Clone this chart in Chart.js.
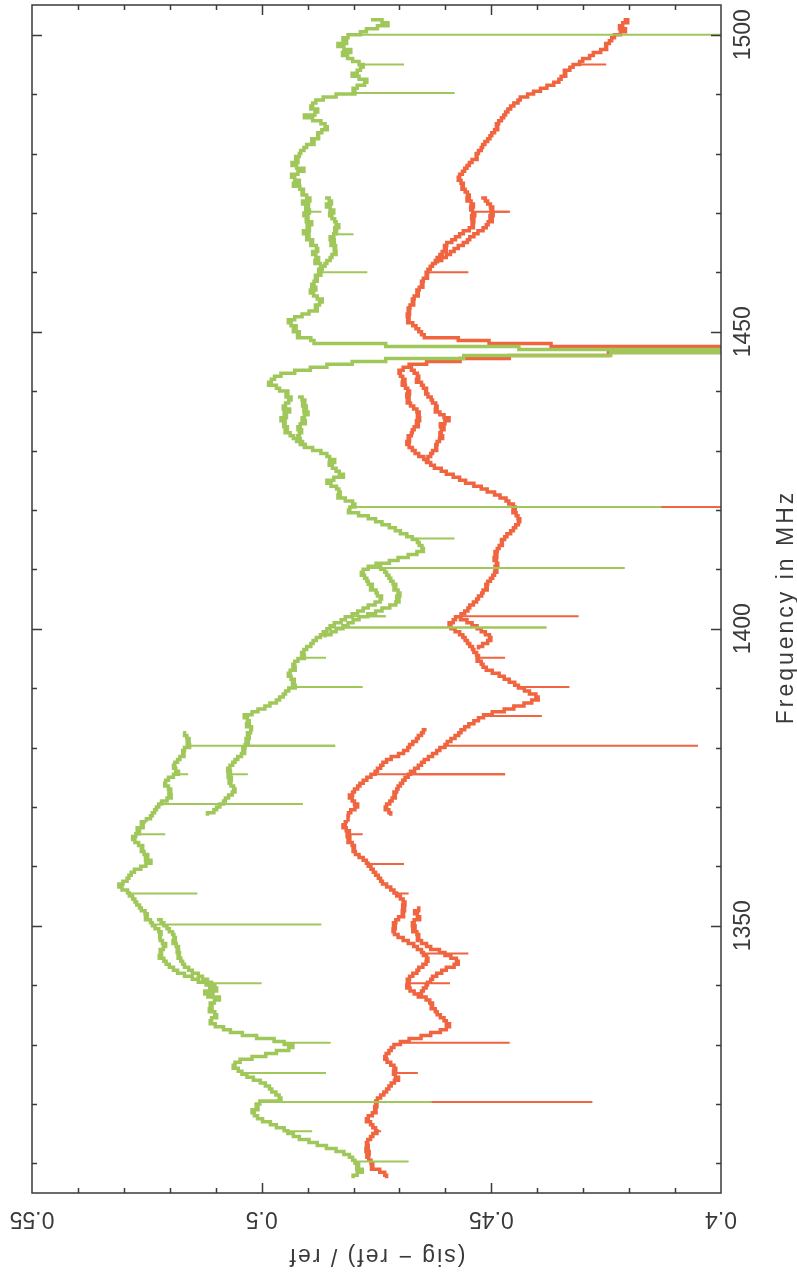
<!DOCTYPE html>
<html>
<head>
<meta charset="utf-8">
<script src="https://cdn.jsdelivr.net/npm/chart.js@4/dist/chart.umd.min.js"></script>
<style>
  html, body { margin: 0; padding: 0; background: #ffffff; }
  canvas { display: block; }
</style>
</head>
<body>
<canvas id="spectrum" width="797" height="1283"></canvas>
<script>
// Channel grid of the spectra (MHz)
const CHANNEL_MHZ = 0.5;
const mainStartMHz = 1502.5;

// (sig - ref) / ref, one value per channel from 1502.5 MHz downwards
const greenMain = [
  0.4762,0.4738,0.4725,0.4748,0.4772,0.4785,0.4812,0.4823,0.4815,0.4834,
  0.4821,0.4806,0.4824,0.4813,0.4802,0.4788,0.4779,0.4785,0.4792,0.4803,
  0.4788,0.4771,0.4776,0.4792,0.4801,0.4797,0.4838,0.4866,0.4882,0.4889,
  0.4893,0.4878,0.4884,0.4907,0.4889,0.4871,0.4862,0.4857,0.4869,0.4878,
  0.4876,0.4891,0.4886,0.4902,0.4908,0.4915,0.4918,0.4926,0.4921,0.4934,
  0.4924,0.4908,0.4921,0.4935,0.4928,0.4918,0.4931,0.4917,0.4909,0.4912,
  0.4902,0.4895,0.4911,0.4898,0.4904,0.4896,0.4908,0.4899,0.4903,0.4891,
  0.4901,0.4896,0.4909,0.4897,0.4902,0.4889,0.4893,0.4881,0.4878,0.4889,
  0.4882,0.4876,0.4884,0.4872,0.4869,0.4876,0.4871,0.4883,0.4879,0.4886,
  0.4891,0.4882,0.4894,0.4887,0.4879,0.4868,0.4874,0.4883,0.4879,0.4897,
  0.4912,0.4928,0.4942,0.4936,0.4925,0.4931,0.4918,0.4922,0.4893,0.4886,
  0.4730,0.4440,0.3800,0.4240,0.4560,0.4730,0.4803,0.4858,0.4894,0.4928,
  0.4958,0.4972,0.4979,0.4985,0.4968,0.4961,0.4943,0.4947,0.4936,0.4941,
  0.4948,0.4953,0.4939,0.4951,0.4946,0.4958,0.4949,0.4952,0.4944,0.4949,
  0.4938,0.4931,0.4924,0.4916,0.4907,0.4889,0.4871,0.4858,0.4852,0.4841,
  0.4853,0.4846,0.4838,0.4831,0.4822,0.4843,0.4858,0.4849,0.4837,0.4832,
  0.4829,0.4834,0.4818,0.4802,0.4797,0.4808,0.4811,0.4789,0.4768,0.4752,
  0.4738,0.4722,0.4709,0.4698,0.4684,0.4672,0.4661,0.4657,0.4651,0.4648,
  0.4662,0.4681,0.4703,0.4722,0.4751,0.4768,0.4779,0.4783,0.4776,0.4771,
  0.4768,0.4759,0.4763,0.4751,0.4748,0.4739,0.4742,0.4753,0.4768,0.4779,
  0.4791,0.4803,0.4818,0.4827,0.4842,0.4851,0.4858,0.4866,0.4872,0.4881,
  0.4888,0.4893,0.4902,0.4908,0.4913,0.4907,0.4921,0.4928,0.4932,0.4927,
  0.4938,0.4942,0.4936,0.4929,0.4933,0.4927,0.4941,0.4948,0.4953,0.4961,
  0.4968,0.4982,0.4993,0.5008,0.5021,0.5038,0.5031,0.5027,0.5033,0.5022,
  0.5024,0.5031,0.5027,0.5034,0.5029,0.5036,0.5041,0.5037,0.5044,0.5052,
  0.5058,0.5063,0.5069,0.5074,0.5068,0.5073,0.5066,0.5071,0.5067,0.5061,
  0.5058,0.5064,0.5072,0.5079,0.5083,0.5091,0.5098,0.5104,0.5118,null,
  0.5251,0.5262,0.5258,0.5271,0.5266,0.5274,0.5281,0.5276,0.5268,0.5259,
  0.5262,0.5256,0.5248,0.5253,0.5241,0.5252,0.5263,0.5277,0.5284,0.5289,
  0.5293,0.5302,0.5311,0.5304,0.5292,0.5288,0.5281,0.5276,0.5272,0.5266,
  0.5262,0.5254,0.5249,0.5253,0.5242,0.5238,0.5232,0.5224,0.5219,0.5222,
  0.5221,0.5216,0.5209,0.5214,0.5221,0.5218,0.5223,0.5213,0.5208,0.5201,
  0.5192,0.5183,0.5168,0.5151,0.5138,0.5121,0.5113,0.5108,0.5124,0.5117,
  0.5092,0.5103,0.5112,0.5108,0.5114,0.5102,0.5098,0.5109,0.5112,0.5101,
  0.5083,0.5068,0.5042,0.5011,0.4973,0.4951,0.4932,0.4941,0.4968,0.4991,
  0.5021,0.5047,0.5058,0.5062,0.5051,0.5043,0.5032,0.5018,0.5003,0.4992,
  0.4983,0.4978,0.4969,0.4962,0.4958,0.5004,0.5012,0.5008,0.5021,0.5016,
  0.5009,0.4998,0.4981,0.4968,0.4951,0.4943,0.4931,0.4918,0.4897,0.4879,
  0.4859,0.4838,0.4821,0.4809,0.4802,0.4797,0.4789,0.4793,0.4781,0.4792,
  0.4801
];

const redMain = [
  0.4212,0.4203,0.4214,0.4221,0.4208,0.4219,0.4232,0.4238,0.4243,0.4251,
  0.4249,0.4262,0.4278,0.4286,0.4301,0.4308,0.4322,0.4329,0.4341,0.4338,
  0.4348,0.4353,0.4364,0.4379,0.4393,0.4408,0.4421,0.4437,0.4442,0.4451,
  0.4458,0.4464,0.4469,0.4473,0.4478,0.4484,0.4489,0.4486,0.4493,0.4499,
  0.4503,0.4508,0.4514,0.4519,0.4522,0.4528,0.4533,0.4531,0.4542,0.4548,
  0.4553,0.4558,0.4563,0.4569,0.4572,0.4566,0.4561,0.4564,0.4557,0.4552,
  0.4548,0.4553,0.4544,0.4539,0.4545,0.4541,0.4536,0.4543,0.4538,0.4542,
  0.4539,0.4548,0.4561,0.4569,0.4578,0.4586,0.4597,0.4602,0.4598,0.4607,
  0.4612,0.4618,0.4622,0.4628,0.4633,0.4638,0.4642,0.4639,0.4648,0.4652,
  0.4649,0.4657,0.4662,0.4659,0.4668,0.4672,0.4669,0.4677,0.4681,0.4678,
  0.4683,0.4679,0.4682,0.4671,0.4664,0.4658,0.4652,0.4646,0.4572,0.4505,
  0.4370,0.3800,0.3800,0.4245,0.4461,0.4568,0.4641,0.4679,0.4692,0.4701,
  0.4698,0.4693,0.4688,0.4694,0.4687,0.4682,0.4678,0.4684,0.4679,0.4683,
  0.4676,0.4669,0.4662,0.4657,0.4661,0.4656,0.4663,0.4659,0.4668,0.4672,
  0.4674,0.4681,0.4678,0.4684,0.4679,0.4672,0.4666,0.4658,0.4647,0.4641,
  0.4632,0.4624,0.4609,0.4598,0.4583,0.4569,0.4556,0.4538,0.4522,0.4509,
  0.4493,0.4481,0.4468,0.4462,0.4452,0.4448,0.4453,0.4446,0.4442,0.4438,
  0.4441,0.4447,0.4452,0.4458,0.4466,0.4471,0.4478,0.4476,0.4483,0.4487,
  0.4492,0.4488,0.4494,0.4489,0.4486,0.4492,0.4488,0.4493,0.4497,0.4502,
  0.4508,0.4512,0.4509,0.4518,0.4521,0.4528,0.4532,0.4539,0.4547,0.4551,
  0.4558,0.4566,0.4578,0.4583,0.4592,0.4588,0.4579,0.4569,0.4562,0.4557,
  0.4552,0.4547,0.4541,0.4538,0.4532,0.4528,0.4531,0.4522,0.4518,0.4511,
  0.4498,0.4483,0.4472,0.4461,0.4449,0.4441,0.4428,0.4417,0.4403,0.4398,
  0.4412,0.4429,0.4451,0.4472,0.4498,0.4517,0.4528,0.4538,0.4549,0.4558,
  0.4566,0.4571,0.4579,0.4588,0.4596,0.4601,0.4612,0.4619,0.4628,0.4637,
  0.4646,0.4652,0.4659,0.4667,0.4676,0.4681,0.4688,0.4693,0.4698,0.4703,
  0.4706,0.4712,0.4709,0.4716,0.4721,0.4728,0.4731,0.4723,0.4719,null,
  0.4812,0.4818,0.4823,0.4816,0.4809,0.4814,0.4808,0.4812,0.4803,0.4798,
  0.4801,0.4796,0.4788,0.4779,0.4772,0.4768,0.4762,0.4757,0.4752,0.4746,
  0.4741,0.4737,0.4728,0.4719,0.4712,0.4706,0.4698,0.4692,0.4688,0.4693,
  0.4689,0.4694,0.4691,0.4702,0.4708,0.4713,0.4709,0.4714,0.4711,0.4703,
  0.4692,0.4681,0.4669,0.4661,0.4652,0.4648,0.4641,0.4638,0.4642,0.4649,
  0.4658,0.4662,0.4671,0.4678,0.4683,0.4679,0.4684,0.4677,0.4668,0.4659,
  0.4642,0.4634,0.4628,0.4631,0.4622,0.4618,0.4611,0.4603,0.4598,0.4591,
  0.4598,0.4611,0.4632,0.4653,0.4679,0.4698,0.4712,0.4718,0.4723,0.4729,
  0.4732,0.4727,0.4719,0.4712,0.4708,0.4713,0.4709,0.4702,0.4711,0.4718,
  0.4723,0.4728,0.4734,0.4741,0.4748,0.4752,0.4749,0.4754,0.4751,0.4759,
  0.4768,0.4772,0.4763,0.4758,0.4752,0.4749,0.4758,0.4763,0.4769,0.4772,
  0.4768,0.4773,0.4766,0.4771,0.4767,0.4762,0.4758,0.4761,0.4743,0.4732,
  0.4728
];

// Overlapping sub-band spectra: start channel (MHz) and values downwards
const greenOverlapStarts = [1472.5, 1439, 1410.5, 1382.5, 1351];
const greenOverlapA = [0.4862,0.4853,0.4848,0.4859,0.4851,0.4843,0.4852,0.4847,0.4841,0.4838,0.4832,0.4841,0.4837,0.4843,0.4851,0.4842,0.4849,0.4839,0.4842,0.4838,0.4847,0.4851,0.4858,0.4862,0.4868,0.4871];
const greenOverlapB = [0.4921,0.4912,0.4906,0.4911,0.4903,0.4908,0.4899,0.4907,0.4912,0.4905,0.4916,0.4921,0.4913,0.4918,0.4922,0.4916,0.4911,0.4905];
const greenOverlapC = [0.4748,0.4741,0.4732,0.4728,0.4723,0.4719,0.4714,0.4708,0.4712,0.4703,0.4699,0.4706,0.4701,0.4708,0.4721,0.4738,0.4752,0.4769,0.4788,0.4801,0.4812,0.4823,0.4838,0.4849,0.4862];
const greenOverlapD = [0.5171,0.5168,0.5163,0.5158,0.5162,0.5157,0.5168,0.5172,0.5169,0.5178,0.5183,0.5189,0.5192,0.5187,0.5181,0.5192,0.5203,0.5209,0.5211,0.5203,0.5198,0.5202,0.5197,0.5206,0.5218,0.5224,0.5229,0.5233,0.5238,0.5242,0.5251];
const greenOverlapE = [0.5228,0.5219,0.5213,0.5206,0.5201,0.5194,0.5191,0.5188,0.5193,0.5186,0.5181,0.5184,0.5179,0.5182,0.5176,0.5172,0.5168,0.5159,0.5151,0.5138,0.5129,0.5118,0.5109,0.5102,0.5098,0.5106,0.5111];

const redOverlapStarts = [1472.5, 1444, 1401.5, 1383, 1353];
const redOverlapA = [0.4522,0.4513,0.4508,0.4502,0.4497,0.4501,0.4496,0.4503,0.4498,0.4507,0.4511,0.4518,0.4529,0.4538,0.4547,0.4552,0.4561,0.4572,0.4581,0.4589,0.4598,0.4608,0.4617];
const redOverlapB = [0.4682,0.4674,0.4668,0.4661,0.4658,0.4663,0.4652,0.4648,0.4641,0.4643,0.4638,0.4631,0.4628,0.4621,0.4618,0.4622,0.4612,0.4603,0.4592,0.4601,0.4611,0.4603,0.4609,0.4612,0.4606,0.4613,0.4618,0.4621,0.4619,0.4628,0.4632,0.4638,0.4641];
const redOverlapC = [0.4571,0.4553,0.4542,0.4531,0.4522,0.4513,0.4504,0.4501,0.4508,0.4519,0.4528];
const redOverlapD = [0.4641,0.4648,0.4652,0.4659,0.4663,0.4671,0.4678,0.4682,0.4691,0.4702,0.4718,0.4728,0.4736,0.4741,0.4748,0.4753,0.4762,0.4771,0.4779,0.4786,0.4791,0.4798,0.4802,0.4809,0.4803,0.4798,0.4791,0.4797,0.4806,0.4811,0.4812,0.4812];
const redOverlapE = [0.4662,0.4658,0.4667,0.4661,0.4656,0.4668,0.4672,0.4666,0.4671,0.4662,0.4658,0.4661,0.4652,0.4641,0.4632,0.4613,0.4601,0.4588,0.4576,0.4572,0.4581,0.4598,0.4608,0.4619,0.4628,0.4632,0.4639,0.4642,0.4648,0.4652,0.4658];

// Single-channel interference spikes: frequency (MHz) and value
const greenSpikeFreqs  = [1500, 1495, 1490.2, 1470.2, 1460, 1420.5, 1415.2, 1410.2, 1402.1, 1400.2, 1395.1, 1390.2, 1380.3, 1375.5, 1370.5, 1365.4, 1355.4, 1350.2, 1340.3, 1330.3, 1325.2, 1320.3, 1315.4, 1310.3];
const greenSpikeValues = [0.37, 0.469, 0.458, 0.487, 0.477, 0.413, 0.458, 0.421, 0.473, 0.438, 0.486, 0.478, 0.484, 0.503, 0.491, 0.521, 0.514, 0.487, 0.500, 0.485, 0.486, 0.463, 0.489, 0.468];
const greenOverlapSpikeFreqs  = [1466.4, 1410.2, 1402.1, 1400.2, 1380.3, 1375.5, 1370.5];
const greenOverlapSpikeValues = [0.480, 0.421, 0.473, 0.438, 0.484, 0.516, 0.491];

const redSpikeFreqs  = [1495, 1470.2, 1460, 1420.5, 1402.1, 1395.1, 1390.2, 1385.3, 1380.3, 1375.5, 1365.4, 1360.4, 1355.4, 1345.3, 1340.3, 1330.3, 1325.2, 1320.3, 1315.4];
const redSpikeValues = [0.425, 0.446, 0.455, 0.37, 0.431, 0.447, 0.433, 0.439, 0.405, 0.447, 0.478, 0.469, 0.468, 0.455, 0.459, 0.446, 0.466, 0.428, 0.474];
const redOverlapSpikeFreqs  = [1470.2, 1375.5];
const redOverlapSpikeValues = [0.446, 0.447];

// Axes
const valueMin = 0.40, valueMax = 0.55;
const freqMin = 1305, freqMax = 1505;
const valueTicks = [0.55, 0.5, 0.45, 0.4];
const valueTickLabels = ['0.55', '0.5', '0.45', '0.4'];
const freqTicks = [1350, 1400, 1450, 1500];
const freqTickLabels = ['1350', '1400', '1450', '1500'];
const valueTitle = '(sig \u2212 ref) / ref';
const freqTitle = 'Frequency in MHz';

const GREEN = '#a0c75a';
const RED = '#f0643f';

// ---- build point lists ----
function toPoints(start, values) {
  return values.map((v, i) => ({ x: v, y: +(start - i * CHANNEL_MHZ).toFixed(3) }));
}
// horizontal spike segments starting from the trace value of the channel they fall in
function spikeSegments(points, freqs, values) {
  const out = [];
  const top = points[0].y, bottom = points[points.length - 1].y;
  freqs.forEach((f, k) => {
    if (f > top || f <= bottom) return;
    const p = points.find(q => q.y < f);
    if (!p || p.x === null) return;
    out.push({ x: p.x, y: f }, { x: values[k], y: f }, { x: null, y: f });
  });
  return out;
}

function traceDataset(points, color, order) {
  return {
    data: points, borderColor: color, borderWidth: 3.5,
    stepped: 'before', pointRadius: 0, spanGaps: false, fill: false, clip: 0, order
  };
}
function spikeDataset(points, color, order) {
  return {
    data: points, borderColor: color, borderWidth: 2,
    pointRadius: 0, spanGaps: false, fill: false, clip: 0, order
  };
}

const datasets = [];
const greenTraces = [toPoints(mainStartMHz, greenMain)].concat(
  [greenOverlapA, greenOverlapB, greenOverlapC, greenOverlapD, greenOverlapE].map((v, i) => toPoints(greenOverlapStarts[i], v)));
const redTraces = [toPoints(mainStartMHz, redMain)].concat(
  [redOverlapA, redOverlapB, redOverlapC, redOverlapD, redOverlapE].map((v, i) => toPoints(redOverlapStarts[i], v)));

greenTraces.forEach(t => datasets.push(traceDataset(t, GREEN, 0)));
datasets.push(spikeDataset(spikeSegments(greenTraces[0], greenSpikeFreqs, greenSpikeValues), GREEN, 0));
greenTraces.slice(1).forEach(t => datasets.push(spikeDataset(spikeSegments(t, greenOverlapSpikeFreqs, greenOverlapSpikeValues), GREEN, 0)));
redTraces.forEach(t => datasets.push(traceDataset(t, RED, 1)));
datasets.push(spikeDataset(spikeSegments(redTraces[0], redSpikeFreqs, redSpikeValues), RED, 1));
redTraces.slice(1).forEach(t => datasets.push(spikeDataset(spikeSegments(t, redOverlapSpikeFreqs, redOverlapSpikeValues), RED, 1)));

// ---- frame, inward ticks and rotated labels ----
const FONT = '"Liberation Sans", Arial, sans-serif';
const framePlugin = {
  id: 'frame',
  afterDatasetsDraw(chart) {
    const { ctx, chartArea: a, scales } = chart;
    const xs = scales.x, ys = scales.y;
    ctx.save();
    ctx.strokeStyle = '#3a3a3a';
    ctx.lineWidth = 1.5;
    ctx.strokeRect(a.left, a.top, a.right - a.left, a.bottom - a.top);
    ctx.beginPath();
    for (let k = 41; k <= 54; k++) {
      const px = Math.round(xs.getPixelForValue(k / 100)) + 0.5;
      const len = k % 5 === 0 ? 10 : 5;
      ctx.moveTo(px, a.bottom); ctx.lineTo(px, a.bottom - len);
      ctx.moveTo(px, a.top); ctx.lineTo(px, a.top + len);
    }
    for (let f = 1310; f <= 1500; f += 10) {
      const py = Math.round(ys.getPixelForValue(f)) + 0.5;
      const len = f % 50 === 0 ? 10 : 5;
      ctx.moveTo(a.left, py); ctx.lineTo(a.left + len, py);
      ctx.moveTo(a.right, py); ctx.lineTo(a.right - len, py);
    }
    ctx.stroke();

    ctx.fillStyle = '#3a3a3a';
    ctx.font = '23px ' + FONT;
    ctx.textAlign = 'center';
    ctx.textBaseline = 'alphabetic';
    // value labels below the frame, upside down
    valueTicks.forEach((v, i) => {
      ctx.save();
      ctx.translate(xs.getPixelForValue(v), a.bottom + 19);
      ctx.rotate(Math.PI);
      ctx.fillText(valueTickLabels[i], 0, 0);
      ctx.restore();
    });
    // frequency labels right of the frame, reading upwards
    freqTicks.forEach((f, i) => {
      ctx.save();
      ctx.translate(a.right + 29, ys.getPixelForValue(f));
      ctx.rotate(-Math.PI / 2);
      ctx.fillText(freqTickLabels[i], 0, 0);
      ctx.restore();
    });
    // axis titles
    if ('letterSpacing' in ctx) ctx.letterSpacing = '2px';
    ctx.save();
    ctx.translate((a.left + a.right) / 2, a.bottom + 56);
    ctx.rotate(Math.PI);
    ctx.fillText(valueTitle, 0, 0);
    ctx.restore();
    if ('letterSpacing' in ctx) ctx.letterSpacing = '3px';
    ctx.save();
    ctx.translate(a.right + 72, (a.top + a.bottom) / 2 + 8);
    ctx.rotate(-Math.PI / 2);
    ctx.fillText(freqTitle, 0, 0);
    ctx.restore();
    ctx.restore();
  }
};

new Chart(document.getElementById('spectrum'), {
  type: 'line',
  data: { datasets },
  options: {
    indexAxis: 'y',
    responsive: false,
    animation: false,
    devicePixelRatio: 1,
    events: [],
    layout: { padding: { left: 32, right: 76, top: 5, bottom: 90 } },
    plugins: { legend: { display: false }, tooltip: { enabled: false } },
    scales: {
      x: { type: 'linear', min: valueMin, max: valueMax, reverse: true, display: false },
      y: { type: 'linear', min: freqMin, max: freqMax, display: false }
    }
  },
  plugins: [framePlugin]
});
</script>
</body>
</html>
